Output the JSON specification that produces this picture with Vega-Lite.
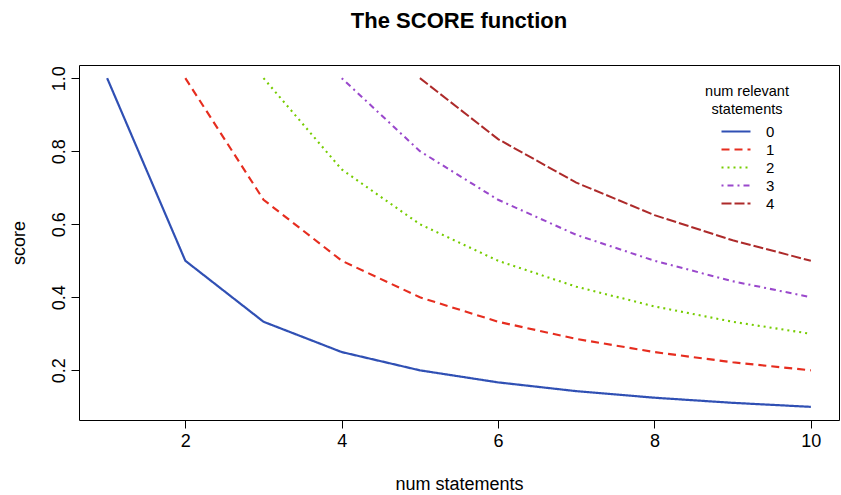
{
  "$schema": "https://vega.github.io/schema/vega-lite/v6.json",
  "width": 760,
  "height": 355,
  "autosize": "none",
  "padding": {"left": 79, "top": 65, "right": 2, "bottom": 75},
  "background": "white",
  "title": {
    "text": "The SCORE function",
    "font": "Liberation Sans",
    "fontSize": 22,
    "fontWeight": "bold",
    "color": "black",
    "anchor": "middle",
    "offset": 32
  },
  "config": {
    "view": {"stroke": "black", "strokeWidth": 1},
    "axis": {
      "labelFont": "Liberation Sans",
      "titleFont": "Liberation Sans",
      "labelFontSize": 18,
      "titleFontSize": 18,
      "titleFontWeight": "normal",
      "labelColor": "black",
      "titleColor": "black",
      "tickColor": "black",
      "domain": false,
      "grid": false,
      "tickSize": 8,
      "labelPadding": 4
    }
  },
  "data": {
    "values": [
      {"n": 1, "score": 1.0, "k": "0"},
      {"n": 2, "score": 0.5, "k": "0"},
      {"n": 3, "score": 0.333, "k": "0"},
      {"n": 4, "score": 0.25, "k": "0"},
      {"n": 5, "score": 0.2, "k": "0"},
      {"n": 6, "score": 0.167, "k": "0"},
      {"n": 7, "score": 0.143, "k": "0"},
      {"n": 8, "score": 0.125, "k": "0"},
      {"n": 9, "score": 0.111, "k": "0"},
      {"n": 10, "score": 0.1, "k": "0"},
      {"n": 2, "score": 1.0, "k": "1"},
      {"n": 3, "score": 0.667, "k": "1"},
      {"n": 4, "score": 0.5, "k": "1"},
      {"n": 5, "score": 0.4, "k": "1"},
      {"n": 6, "score": 0.333, "k": "1"},
      {"n": 7, "score": 0.286, "k": "1"},
      {"n": 8, "score": 0.25, "k": "1"},
      {"n": 9, "score": 0.222, "k": "1"},
      {"n": 10, "score": 0.2, "k": "1"},
      {"n": 3, "score": 1.0, "k": "2"},
      {"n": 4, "score": 0.75, "k": "2"},
      {"n": 5, "score": 0.6, "k": "2"},
      {"n": 6, "score": 0.5, "k": "2"},
      {"n": 7, "score": 0.429, "k": "2"},
      {"n": 8, "score": 0.375, "k": "2"},
      {"n": 9, "score": 0.333, "k": "2"},
      {"n": 10, "score": 0.3, "k": "2"},
      {"n": 4, "score": 1.0, "k": "3"},
      {"n": 5, "score": 0.8, "k": "3"},
      {"n": 6, "score": 0.667, "k": "3"},
      {"n": 7, "score": 0.571, "k": "3"},
      {"n": 8, "score": 0.5, "k": "3"},
      {"n": 9, "score": 0.444, "k": "3"},
      {"n": 10, "score": 0.4, "k": "3"},
      {"n": 5, "score": 1.0, "k": "4"},
      {"n": 6, "score": 0.833, "k": "4"},
      {"n": 7, "score": 0.714, "k": "4"},
      {"n": 8, "score": 0.625, "k": "4"},
      {"n": 9, "score": 0.556, "k": "4"},
      {"n": 10, "score": 0.5, "k": "4"}
    ]
  },
  "mark": {"type": "line", "clip": true},
  "encoding": {
    "x": {
      "field": "n",
      "type": "quantitative",
      "scale": {"domain": [0.64, 10.36], "nice": false, "zero": false},
      "axis": {"values": [2, 4, 6, 8, 10], "title": "num statements", "titlePadding": 25, "labelFlush": false}
    },
    "y": {
      "field": "score",
      "type": "quantitative",
      "scale": {"domain": [0.064, 1.036], "nice": false, "zero": false},
      "axis": {
        "values": [0.2, 0.4, 0.6, 0.8, 1.0],
        "format": ".1f",
        "title": "score",
        "labelAngle": 270,
        "labelAlign": "center",
        "labelBaseline": "alphabetic",
        "labelPadding": 7,
        "titlePadding": 22,
        "labelFlush": false
      }
    },
    "color": {
      "field": "k",
      "type": "nominal",
      "scale": {"domain": ["0", "1", "2", "3", "4"], "range": ["#3050b4", "#e62d1f", "#76cc00", "#9a48cc", "#ad2a2a"]},
      "legend": {
        "title": ["num relevant", "statements"],
        "orient": "none",
        "legendX": 626,
        "legendY": 20,
        "titleFont": "Liberation Sans",
        "titleFontSize": 14.5,
        "titleFontWeight": "normal",
        "titleColor": "black",
        "titleAnchor": "middle",
        "titleAlign": "center",
        "titleLineHeight": 18,
        "titlePadding": 6,
        "labelFont": "Liberation Sans",
        "labelFontSize": 15,
        "labelColor": "black",
        "symbolSize": 841,
        "symbolStrokeWidth": 2,
        "labelOffset": 14,
        "clipHeight": 16,
        "rowPadding": 2
      }
    },
    "strokeDash": {
      "field": "k",
      "type": "nominal",
      "scale": {"domain": ["0", "1", "2", "3", "4"], "range": [[1, 0], [8, 5], [2, 4], [2, 4, 6, 4], [10, 3]]},
      "legend": null
    },
    "strokeWidth": {
      "field": "k",
      "type": "nominal",
      "scale": {"domain": ["0", "1", "2", "3", "4"], "range": [2.2, 2, 1.6, 1.6, 1.6]},
      "legend": null
    }
  }
}
